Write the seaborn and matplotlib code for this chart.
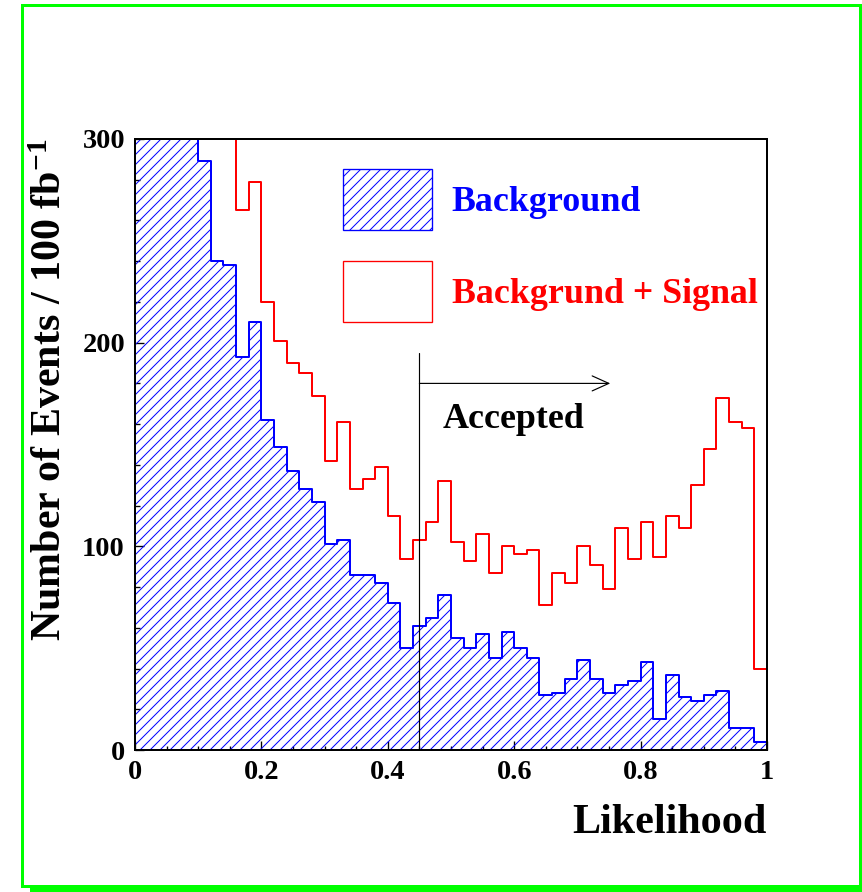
import numpy as np
import pandas as pd
import seaborn as sns
import matplotlib
matplotlib.use("Agg")
import matplotlib.pyplot as plt
from matplotlib.patches import Patch, Rectangle

# ---------------- data (50 bins of width 0.02 on [0, 1]) ----------------
bin_edges = [round(0.02 * i, 2) for i in range(51)]
bin_centers = [round(0.01 + 0.02 * i, 3) for i in range(50)]

background = [400, 370, 345, 325, 305, 289, 240, 238, 193, 210,
              162, 149, 137, 128, 122, 101, 103, 86, 86, 82,
              72, 50, 61, 65, 76, 55, 50, 57, 45, 58,
              50, 45, 27, 28, 35, 44, 35, 28, 32, 34,
              43, 15, 37, 26, 24, 27, 29, 11, 11, 4]

bkg_plus_signal = [450, 420, 400, 380, 360, 340, 320, 305, 265, 279,
                   220, 201, 190, 185, 174, 142, 161, 128, 133, 139,
                   115, 94, 103, 112, 132, 102, 93, 106, 87, 100,
                   96, 98, 71, 87, 82, 100, 91, 79, 109, 94,
                   112, 95, 115, 109, 130, 148, 173, 161, 158, 40]

x_ticks = [0, 0.2, 0.4, 0.6, 0.8, 1.0]
x_tick_labels = ["0", "0.2", "0.4", "0.6", "0.8", "1"]
y_ticks = [0, 100, 200, 300]
y_tick_labels = ["0", "100", "200", "300"]

cut_value = 0.45
arrow_end = 0.752
arrow_y = 180
cut_line_top = 195

sig = pd.DataFrame({"x": bin_centers, "w": bkg_plus_signal})
bkg = pd.DataFrame({"x": bin_centers, "w": background})

# ---------------- style ----------------
sns.set_theme(style="white")
plt.rcParams["font.family"] = ["Liberation Serif", "DejaVu Serif"]
plt.rcParams["font.weight"] = "bold"
plt.rcParams["text.color"] = "black"
plt.rcParams["axes.labelcolor"] = "black"
plt.rcParams["xtick.color"] = "black"
plt.rcParams["ytick.color"] = "black"
plt.rcParams["mathtext.fontset"] = "custom"
plt.rcParams["mathtext.rm"] = "Liberation Serif:bold"
plt.rcParams["mathtext.bf"] = "Liberation Serif:bold"
plt.rcParams["mathtext.it"] = "Liberation Serif:bold"
plt.rcParams["hatch.linewidth"] = 0.6
plt.rcParams["hatch.color"] = "blue"

DPI = 120
fig = plt.figure(figsize=(862 / DPI, 892 / DPI), dpi=DPI)
fig.patch.set_facecolor("white")
ax = fig.add_axes([135 / 862, 1 - 750 / 892, 632 / 862, 611 / 892])

# red: background + signal (outline only)
n0 = len(ax.collections)
sns.histplot(data=sig, x="x", weights="w", bins=bin_edges, element="step",
             fill=True, color="red", ax=ax)
for c in ax.collections[n0:]:
    c.set_alpha(1)
    c.set_facecolor("none")
    c.set_edgecolor("red")
    c.set_linewidth(1.2)

# blue: background (hatched)
n0 = len(ax.collections)
sns.histplot(data=bkg, x="x", weights="w", bins=bin_edges, element="step",
             fill=True, color="blue", ax=ax)
for c in ax.collections[n0:]:
    c.set_alpha(1)
    c.set_facecolor("none")
    c.set_edgecolor("blue")
    c.set_hatch("////")
    c.set_linewidth(1.2)

ax.set_xlim(0, 1)
ax.set_ylim(0, 300)
ax.set_xticks(x_ticks)
ax.set_xticklabels(x_tick_labels)
ax.set_yticks(y_ticks)
ax.set_yticklabels(y_tick_labels)
ax.set_xticks(np.arange(0, 1.0001, 0.05), minor=True)
ax.set_yticks(np.arange(0, 300.1, 20), minor=True)
ax.tick_params(axis="both", which="major", direction="in", length=5.4, width=0.8,
               labelsize=17, pad=6, colors="black", bottom=True, left=True)
ax.tick_params(axis="both", which="minor", direction="in", length=2.7, width=0.8,
               bottom=True, left=True)
for lab in ax.get_xticklabels() + ax.get_yticklabels():
    lab.set_fontweight("bold")
for sp in ax.spines.values():
    sp.set_color("black")
    sp.set_linewidth(1.2)
    sp.set_zorder(5)
ax.grid(False)

ax.set_xlabel("Likelihood", fontsize=25.3, fontweight="bold", loc="right",
              color="black")
ax.xaxis.set_label_coords(1.0, -0.089)
ax.set_ylabel("Number of Events / 100 fb$^{-1}$", fontsize=25.2,
              fontweight="bold", loc="top", color="black")
ax.yaxis.set_label_coords(-0.103, 1.0)

# cut line, arrow and text
ax.plot([cut_value, cut_value], [0, cut_line_top], color="black", lw=0.7, zorder=4)
ax.annotate("", xy=(arrow_end, arrow_y), xytext=(cut_value, arrow_y),
            arrowprops=dict(arrowstyle="->,head_length=1.0,head_width=0.45",
                            color="black", lw=0.7, shrinkA=0, shrinkB=0,
                            mutation_scale=10))
ax.text(0.487, 162.5, "Accepted", fontsize=21.5, fontweight="bold",
        color="black", ha="left", va="center")

# legend
handles = [Patch(facecolor="none", edgecolor="blue", hatch="////", lw=0.8),
           Patch(facecolor="none", edgecolor="red", lw=0.8)]
leg = ax.legend(handles, ["Background", "Backgrund + Signal"],
                loc="upper left", bbox_to_anchor=(0.329, 0.951),
                frameon=False, handlelength=2.49,
                handleheight=2.24, labelspacing=0.87, handletextpad=0.55,
                borderpad=0, borderaxespad=0, labelcolor=["blue", "red"],
                prop={"weight": "bold", "size": 21.5})

# green frame with shadow
W, H = 862, 892
fig.add_artist(Rectangle((30 / W, 0), (W - 30) / W, 5 / H, transform=fig.transFigure,
                         facecolor="#00ff00", edgecolor="none", zorder=0))
fig.add_artist(Rectangle((21.5 / W, 1 - 885.5 / H), (859.5 - 21.5) / W, (885.5 - 5) / H,
                         transform=fig.transFigure, facecolor="none",
                         edgecolor="#00ff00", lw=1.8, zorder=0))

fig.savefig("out.png", dpi=DPI, facecolor="white")
